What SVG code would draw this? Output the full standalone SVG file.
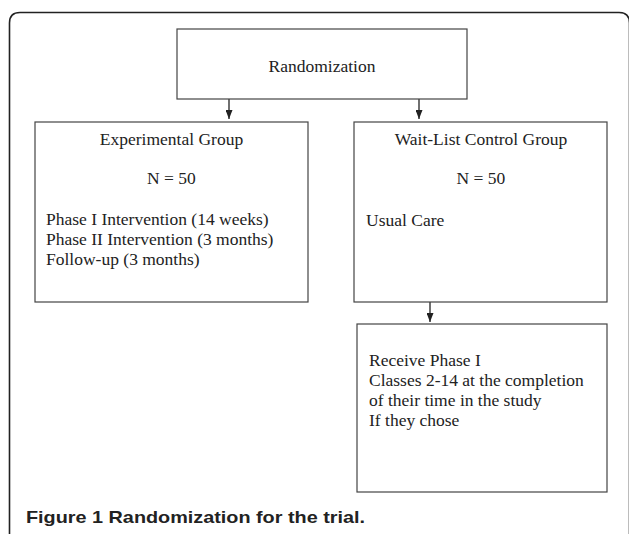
<svg xmlns="http://www.w3.org/2000/svg" width="629" height="534" viewBox="0 0 629 534">
<defs>
<marker id="ah" viewBox="0 0 9 7" refX="9" refY="3.5" markerWidth="9" markerHeight="7" markerUnits="userSpaceOnUse" orient="auto">
<path d="M0,0 L9,3.5 L0,7 z" fill="#222"/>
</marker>
<style>
.box{fill:#fff;stroke:#444;stroke-width:1.2}
.t{font-family:"Liberation Serif","Times New Roman",serif;font-size:17.5px;fill:#222}
.c{text-anchor:middle}
.conn{stroke:#222;stroke-width:1.3;fill:none;marker-end:url(#ah)}
.cap{font-family:"Liberation Sans",Arial,sans-serif;font-size:17px;font-weight:bold;fill:#222}
</style>
</defs>
<rect width="629" height="534" fill="#fff"/>
<path d="M9.5 534 V23 Q9.5 12.5 20 12.5 H619 Q629.5 12.5 629.5 23 V534" fill="none" stroke="#222" stroke-width="1.6"/>
<g id="connectors">
<line class="conn" x1="229" y1="99" x2="229" y2="119"/>
<line class="conn" x1="419" y1="99" x2="419" y2="119"/>
<line class="conn" x1="430" y1="302" x2="430" y2="322"/>
</g>
<g id="randomization">
<rect class="box" x="177" y="29" width="290" height="70"/>
<text class="t c" x="322" y="72">Randomization</text>
</g>
<g id="experimental">
<rect class="box" x="35" y="122" width="273" height="180"/>
<text class="t c" x="171.5" y="145">Experimental Group</text>
<text class="t c" x="171.5" y="184">N = 50</text>
<text class="t" x="46" y="225">Phase I Intervention (14 weeks)</text>
<text class="t" x="46" y="245">Phase II Intervention (3 months)</text>
<text class="t" x="46" y="265">Follow-up (3 months)</text>
</g>
<g id="waitlist">
<rect class="box" x="354" y="122" width="253" height="180"/>
<text class="t c" x="481" y="145">Wait-List Control Group</text>
<text class="t c" x="481" y="184">N = 50</text>
<text class="t" x="366" y="226">Usual Care</text>
</g>
<g id="receive">
<rect class="box" x="357" y="324" width="250" height="168"/>
<text class="t" x="369" y="366">Receive Phase I</text>
<text class="t" x="369" y="386">Classes 2-14 at the completion</text>
<text class="t" x="369" y="406">of their time in the study</text>
<text class="t" x="369" y="426">If they chose</text>
</g>
<text class="cap" x="26" y="523" textLength="339" lengthAdjust="spacingAndGlyphs">Figure 1 Randomization for the trial.</text>
</svg>
